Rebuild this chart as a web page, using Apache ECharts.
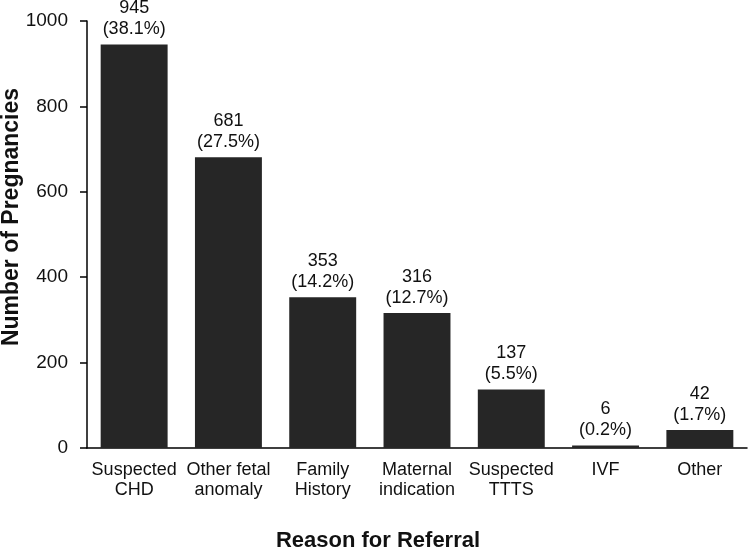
<!DOCTYPE html>
<html><head><meta charset="utf-8">
<script src="https://cdn.jsdelivr.net/npm/echarts@6/dist/echarts.min.js"></script>
<style>html,body{margin:0;padding:0;background:#fff}#c{width:750px;height:551px}</style>
</head><body><div id="c"></div>
<script>
const categories = ['Suspected\nCHD', 'Other fetal\nanomaly', 'Family\nHistory', 'Maternal\nindication', 'Suspected\nTTTS', 'IVF', 'Other'];
const counts = [945, 681, 353, 316, 137, 6, 42];
const percents = ['38.1%', '27.5%', '14.2%', '12.7%', '5.5%', '0.2%', '1.7%'];
const yTicks = [0, 200, 400, 600, 800, 1000];
const yTitle = 'Number of Pregnancies';
const xTitle = 'Reason for Referral';

const chart = echarts.init(document.getElementById('c'), null, {renderer: 'canvas'});
const font = 'Liberation Sans, Arial, sans-serif';
chart.setOption({
  animation: false,
  grid: {left: 87, right: 3, top: 21, bottom: 103, outerBoundsMode: 'none', containLabel: false},
  graphic: [{
    type: 'text',
    x: 12, y: 217,
    rotation: Math.PI / 2,
    style: {
      text: yTitle,
      fill: '#111',
      font: 'bold 23px ' + font,
      textAlign: 'center',
      textVerticalAlign: 'middle'
    }
  }],
  xAxis: {
    type: 'category',
    data: categories,
    axisLine: {lineStyle: {color: '#000', width: 1.5}},
    axisTick: {show: false},
    axisLabel: {color: '#111', fontFamily: font, fontSize: 18, lineHeight: 20, margin: 12, interval: 0},
    name: xTitle,
    nameLocation: 'middle',
    nameGap: 82,
    nameTextStyle: {color: '#111', fontFamily: font, fontSize: 22, fontWeight: 'bold', padding: [0, 78, 0, 0]}
  },
  yAxis: {
    type: 'value',
    min: yTicks[0], max: yTicks[yTicks.length - 1], interval: 200,
    axisLine: {show: true, lineStyle: {color: '#000', width: 1.5}},
    axisTick: {show: true, inside: false, length: 7, lineStyle: {color: '#000', width: 1.5}},
    splitLine: {show: false},
    axisLabel: {color: '#111', fontFamily: font, fontSize: 19, margin: 19, formatter: v => String(v)}
  },
  series: [{
    type: 'bar',
    data: counts,
    barCategoryGap: '29%',
    itemStyle: {color: '#262626'},
    label: {
      show: true,
      position: 'top',
      distance: 5,
      color: '#111',
      fontFamily: font,
      fontSize: 18,
      lineHeight: 21,
      formatter: p => p.value + '\n(' + percents[p.dataIndex] + ')'
    }
  }]
});
</script></body></html>
